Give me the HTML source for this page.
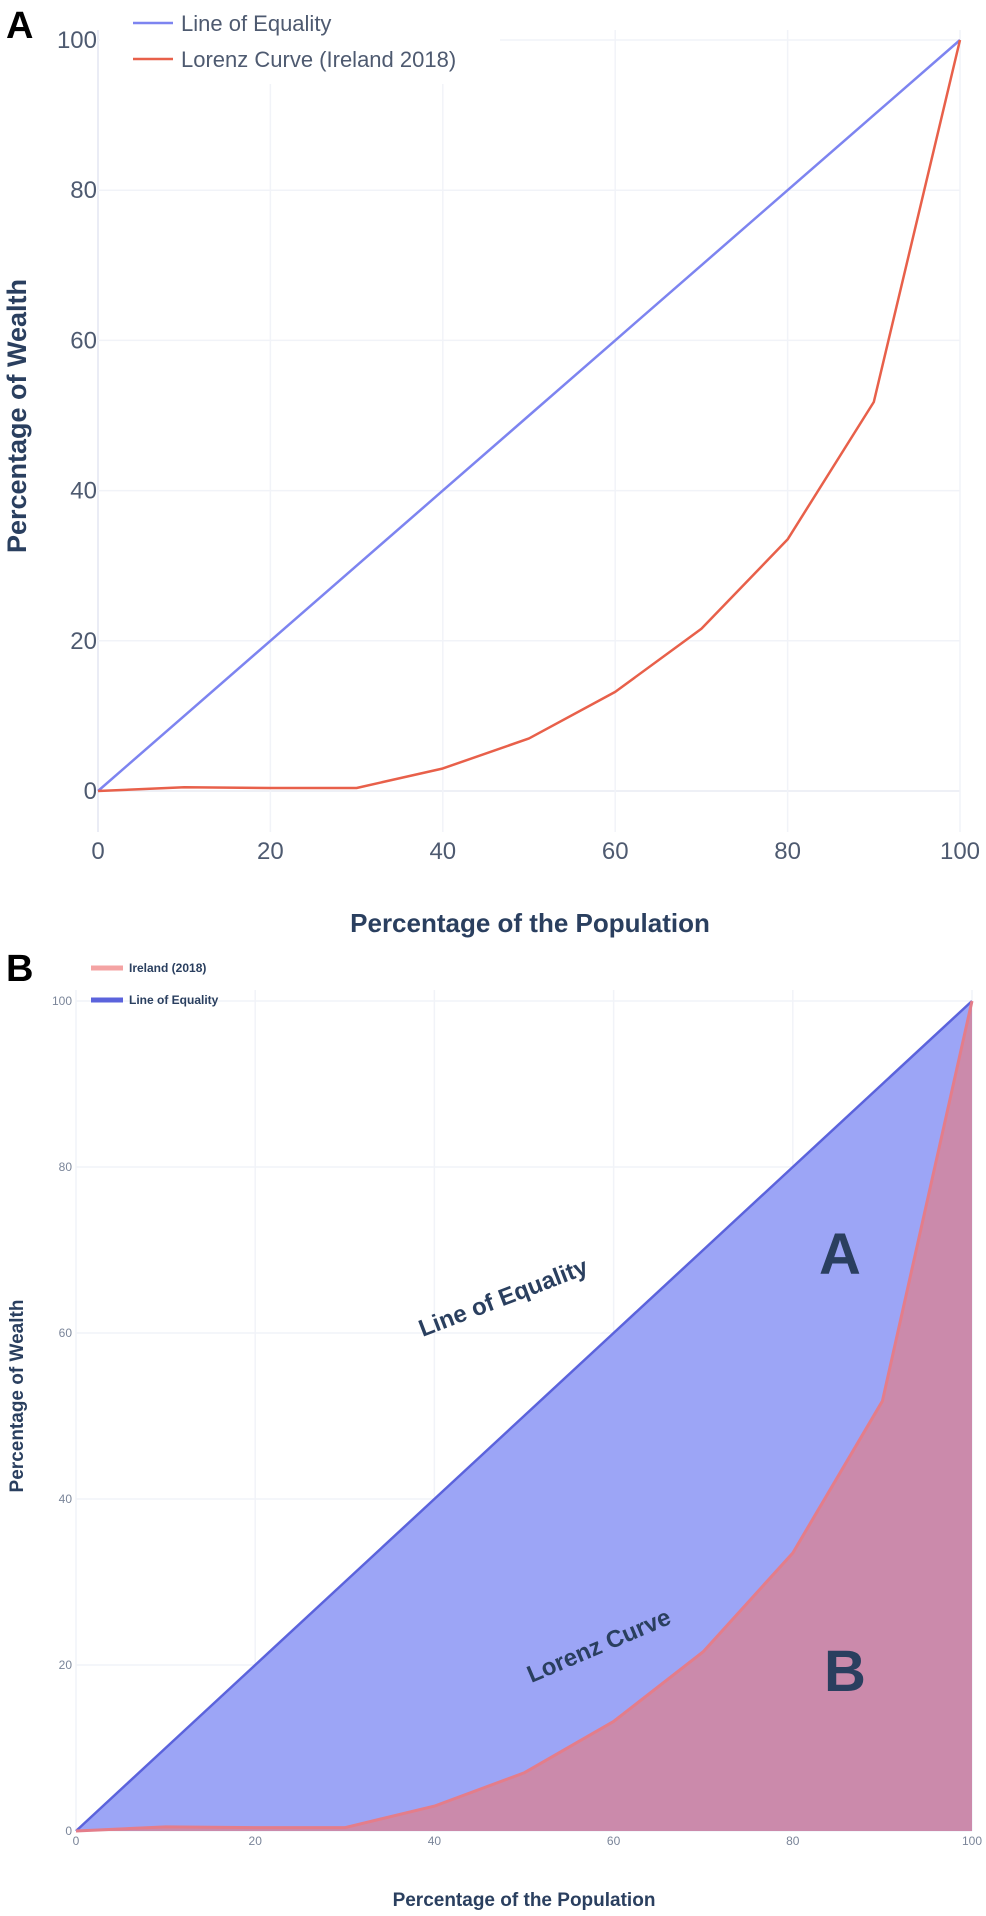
<!DOCTYPE html>
<html><head><meta charset="utf-8">
<style>
html,body{margin:0;padding:0;background:#fff;}
svg{display:block;font-family:"Liberation Sans",Arial,sans-serif;}
</style></head>
<body>
<svg id="fig" width="986" height="1916" viewBox="0 0 986 1916">
<g id="panelA"></g>
<g id="panelB"></g>
</svg>
<script>
const popX = [0,10,20,30,40,50,60,70,80,90,100];
const lorenzY = [0,0.5,0.4,0.4,3,7,13.2,21.6,33.5,51.8,100];
const equalityY = [0,10,20,30,40,50,60,70,80,90,100];
const tickVals = [0,20,40,60,80,100];
const tickLabels = ['0','20','40','60','80','100'];

const NS='http://www.w3.org/2000/svg';
function mk(parent,tag,attrs,text){const e=document.createElementNS(NS,tag);for(const k in attrs)e.setAttribute(k,attrs[k]);if(text!==undefined)e.textContent=text;parent.appendChild(e);return e;}

/* ---------- Panel A ---------- */
const A=document.getElementById('panelA');
const axA={x0:98,x1:960,y0:791,y1:40};
const ax=v=>axA.x0+(axA.x1-axA.x0)*v/100;
const ay=v=>axA.y0+(axA.y1-axA.y0)*v/100;
tickVals.forEach((t,i)=>{
  const gh=mk(A,'line',{x1:axA.x0,x2:axA.x1,y1:ay(t),y2:ay(t),stroke:t===0?'#e8ebf4':'#f1f3f8','stroke-width':1.5});
  
  
  const gv=mk(A,'line',{x1:ax(t),x2:ax(t),y1:30,y2:832,stroke:t===0?'#e3e6f2':'#f1f3f8','stroke-width':1.5});
  
  
  const ly=mk(A,'text',{x:97,y:ay(t)+8,'text-anchor':'end','font-size':24,fill:'#4e5a70'},tickLabels[i]);
  
  
  const lx=mk(A,'text',{x:ax(t),y:859,'text-anchor':'middle','font-size':24,fill:'#4e5a70'},tickLabels[i]);
  
  
});
let t;
t=mk(A,'rect',{x:100,y:0,width:400,height:84,fill:'#fff'});


const eqA=mk(A,'polyline',{points:popX.map((x,i)=>ax(x)+','+ay(equalityY[i])).join(' '),fill:'none',stroke:'#7d84f0','stroke-width':2.5});


const lzA=mk(A,'polyline',{points:popX.map((x,i)=>ax(x)+','+ay(lorenzY[i])).join(' '),fill:'none',stroke:'#e8604a','stroke-width':2.5,'stroke-linejoin':'round'});


t=mk(A,'text',{x:6,y:38,'font-size':38,'font-weight':'bold',fill:'#000'},'A');


t=mk(A,'line',{x1:133,x2:173,y1:23,y2:23,stroke:'#7d84f0','stroke-width':2.5});


t=mk(A,'text',{x:181,y:31,'font-size':22,fill:'#4e5a70'},'Line of Equality');


t=mk(A,'line',{x1:133,x2:173,y1:59,y2:59,stroke:'#e8604a','stroke-width':2.5});


t=mk(A,'text',{x:181,y:67,'font-size':22,fill:'#4e5a70'},'Lorenz Curve (Ireland 2018)');


t=mk(A,'text',{x:530,y:932,'text-anchor':'middle','font-size':26,'font-weight':'bold',fill:'#2a3f5f'},'Percentage of the Population');


t=mk(A,'text',{x:0,y:0,'text-anchor':'middle','font-size':27,'font-weight':'bold',fill:'#2a3f5f',transform:'translate(26,416) rotate(-90)'},'Percentage of Wealth');



/* ---------- Panel B ---------- */
const B=document.getElementById('panelB');
const axB={x0:76,x1:972,y0:1831,y1:1001};
const bx=v=>axB.x0+(axB.x1-axB.x0)*v/100;
const by=v=>axB.y0+(axB.y1-axB.y0)*v/100;
tickVals.forEach((tv,i)=>{
  const gh=mk(B,'line',{x1:axB.x0,x2:axB.x1,y1:by(tv),y2:by(tv),stroke:'#f1f3f8','stroke-width':1.5});
  
  
  const gv=mk(B,'line',{x1:bx(tv),x2:bx(tv),y1:990,y2:axB.y0,stroke:'#f1f3f8','stroke-width':1.5});
  
  
  const ly=mk(B,'text',{x:72,y:by(tv)+4,'text-anchor':'end','font-size':12,fill:'#7a8599'},tickLabels[i]);
  
  
  const lx=mk(B,'text',{x:bx(tv),y:1845,'text-anchor':'middle','font-size':12,fill:'#7a8599'},tickLabels[i]);
  
  
});
const eqPts=popX.map((x,i)=>bx(x)+','+by(equalityY[i]));
const lzPts=popX.map((x,i)=>bx(x)+','+by(lorenzY[i]));
t=mk(B,'polygon',{points:eqPts.join(' ')+' '+bx(100)+','+by(0)+' '+bx(0)+','+by(0),fill:'#9ca5f6'});


t=mk(B,'polygon',{points:lzPts.join(' ')+' '+bx(100)+','+by(0),fill:'#cb8aab'});


t=mk(B,'polyline',{points:eqPts.join(' '),fill:'none',stroke:'#5b63dc','stroke-width':2.5});


t=mk(B,'polyline',{points:lzPts.join(' '),fill:'none',stroke:'#e47d8a','stroke-width':3,'stroke-linejoin':'round'});


t=mk(B,'text',{x:6,y:981,'font-size':38,'font-weight':'bold',fill:'#000'},'B');


t=mk(B,'line',{x1:91,x2:123,y1:968,y2:968,stroke:'#f4a3a3','stroke-width':5});


t=mk(B,'text',{x:129,y:972,'font-size':12,'font-weight':'bold',fill:'#2a3f5f'},'Ireland (2018)');


t=mk(B,'line',{x1:91,x2:123,y1:1000,y2:1000,stroke:'#5b63dc','stroke-width':5});


t=mk(B,'text',{x:129,y:1004,'font-size':12,'font-weight':'bold',fill:'#2a3f5f'},'Line of Equality');


t=mk(B,'text',{x:0,y:0,'text-anchor':'middle','font-size':24,'font-weight':'bold',fill:'#2a3f5f',transform:'translate(506,1305) rotate(-21)'},'Line of Equality');


t=mk(B,'text',{x:0,y:0,'text-anchor':'middle','font-size':24,'font-weight':'bold',fill:'#2a3f5f',transform:'translate(602,1653) rotate(-23)'},'Lorenz Curve');


t=mk(B,'text',{x:840,y:1274,'text-anchor':'middle','font-size':58,'font-weight':'bold',fill:'#2a3f5f'},'A');


t=mk(B,'text',{x:845,y:1691,'text-anchor':'middle','font-size':58,'font-weight':'bold',fill:'#2a3f5f'},'B');


t=mk(B,'text',{x:524,y:1906,'text-anchor':'middle','font-size':19,'font-weight':'bold',fill:'#2a3f5f'},'Percentage of the Population');


t=mk(B,'text',{x:0,y:0,'text-anchor':'middle','font-size':19,'font-weight':'bold',fill:'#2a3f5f',transform:'translate(23,1396) rotate(-90)'},'Percentage of Wealth');


</script>
</body></html>
